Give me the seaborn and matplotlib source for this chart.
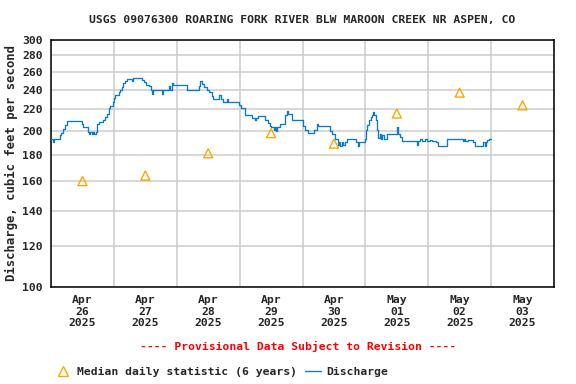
import pandas as pd
import matplotlib
matplotlib.use("Agg")
import matplotlib.pyplot as plt
import seaborn as sns
from matplotlib.lines import Line2D
from matplotlib.ticker import NullLocator

# discharge: hours after Apr 26 00:00 and value (cfs) from that time on
q_hours = [0, 0.8, 1.2, 3.3, 3.9, 4.6, 5.3, 6.2, 11.8, 12.3, 14.1, 14.5, 15.0, 15.5, 16.0, 16.5,
           17.0, 17.6, 18.3, 19.8, 20.5, 21.3, 22.1, 22.7, 23.5, 24.1, 24.4, 25.8, 26.3, 27.0,
           27.6, 28.2, 28.9, 30.8, 31.2, 34.9, 35.5, 36.3, 37.4, 38.0, 38.4, 39.0, 42.2, 42.9,
           45.2, 45.5, 46.0, 46.4, 51.8, 56.4, 56.9, 57.6, 58.5, 59.4, 60.3, 61.3, 61.7, 64.2,
           64.8, 65.8, 67.0, 67.6, 71.9, 72.5, 74.0, 76.6, 77.7, 78.4, 79.1, 81.7, 82.9, 83.6,
           84.0, 85.1, 85.5, 86.0, 86.4, 87.4, 89.3, 90.0, 90.6, 91.9, 96.1, 96.8, 98.2, 100.4,
           101.4, 101.9, 106.5, 107.2, 108.4, 109.7, 110.0, 110.5, 111.0, 111.6, 112.2, 112.9,
           116.4, 117.2, 117.5, 119.8, 120.2, 120.8, 121.4, 122.1, 122.5, 122.8, 123.2, 123.9,
           124.4, 124.9, 125.5, 126.0, 126.5, 127.2, 128.4, 132.2, 132.5, 133.2, 133.9, 139.6,
           140.0, 140.8, 141.8, 142.7, 143.6, 144.6, 145.3, 146.9, 147.8, 151.0, 157.4, 157.8,
           158.2, 159.2, 161.2, 161.8, 165.0, 165.5, 166.0, 166.3, 167.2, 168.0]
q_values = [193, 190, 193, 196, 198, 202, 205, 209, 206, 203, 199, 197, 199, 197, 199, 197,
            199, 206, 208, 210, 213, 216, 221, 223, 227, 231, 235, 238, 240, 243,
            247, 250, 252, 250, 253, 251, 248, 245, 244, 240, 236, 240, 236, 240,
            244, 240, 247, 245, 240, 244, 249, 246, 243, 240, 238, 233, 230, 235,
            230, 227, 230, 227, 224, 221, 215, 212, 210, 212, 214, 210, 207, 204,
            203, 201, 203, 200, 203, 206, 215, 218, 216, 210, 204, 201, 198, 201,
            206, 204, 200, 197, 193, 188, 190, 187, 190, 188, 190, 193,
            190, 187, 190, 193, 201, 205, 210, 213, 215, 217, 215, 210,
            201, 194, 197, 193, 196, 193, 197, 203, 197, 195, 191, 188,
            191, 193, 191, 193, 191, 192, 191, 190, 187, 193, 191, 193,
            191, 192, 190, 187, 190, 187, 190, 192, 193, 193]

# median daily statistic (6 years), plotted at noon
days = ["2025-04-26", "2025-04-27", "2025-04-28", "2025-04-29",
        "2025-04-30", "2025-05-01", "2025-05-02", "2025-05-03"]
medians = [160, 164, 181, 198, 189, 216, 237, 224]

y_ticks = [100, 120, 140, 160, 180, 200, 220, 240, 260, 280, 300]

start = pd.Timestamp("2025-04-26")
flow = pd.DataFrame({"time": start + pd.to_timedelta(q_hours, unit="h"), "cfs": q_values})
med = pd.DataFrame({"time": pd.to_datetime(days) + pd.Timedelta(hours=12), "cfs": medians})

sns.set_style("white")
plt.rcParams["font.family"] = ["DejaVu Sans Mono"]
plt.rcParams["font.weight"] = "bold"
fs = 8.2

fig = plt.figure(figsize=(5.76, 3.84), dpi=100)
ax = fig.add_axes([51 / 576, 1 - 287 / 384, 503 / 576, 247.5 / 384])

blue = "#0a7acc"
orange = "#ffa500"

sns.lineplot(data=flow, x="time", y="cfs", ax=ax, color=blue, linewidth=0.95,
             drawstyle="steps-post", estimator=None, zorder=3)
sns.scatterplot(data=med, x="time", y="cfs", ax=ax, marker="^", s=42,
                facecolor="none", edgecolor=orange, linewidth=1.0, zorder=4)

ax.set_yscale("log")
ax.set_ylim(100, 300)
ax.set_yticks(y_ticks)
ax.set_yticklabels([str(v) for v in y_ticks], fontsize=fs, fontweight="bold")
ax.yaxis.set_minor_locator(NullLocator())

midnights = pd.date_range("2025-04-26", "2025-05-04", freq="D")
ax.set_xlim(midnights[0], midnights[-1])
ax.set_xticks(midnights)
ax.set_xticklabels([])
noons = pd.to_datetime(days) + pd.Timedelta(hours=12)
ax.set_xticks(noons, minor=True)
ax.set_xticklabels([d.strftime("%b\n%d\n%Y") for d in noons], minor=True,
                   fontsize=fs, fontweight="bold", linespacing=1.15)
ax.tick_params(axis="x", which="both", length=0, pad=6)
ax.tick_params(axis="y", length=0, pad=6)

ax.grid(True, which="major", color="#cccccc", linewidth=1.1)
for sp in ax.spines.values():
    sp.set_color("black")
    sp.set_linewidth(1.1)
ax.set_xlabel("")
ax.set_ylabel("Discharge, cubic feet per second", fontsize=8.8, fontweight="bold", labelpad=3)

fig.text(302 / 576, 1 - 20 / 384, "USGS 09076300 ROARING FORK RIVER BLW MAROON CREEK NR ASPEN, CO",
         ha="center", va="center", fontsize=fs, fontweight="bold")
fig.text(298 / 576, 1 - 346 / 384, "---- Provisional Data Subject to Revision ----",
         ha="center", va="center", fontsize=fs, fontweight="bold", color="red")

handles = [Line2D([], [], linestyle="none", marker="^", markersize=7, markerfacecolor="none",
                  markeredgecolor=orange, markeredgewidth=1.0),
           Line2D([], [], color=blue, linewidth=0.95)]
fig.legend(handles, ["Median daily statistic (6 years)", "Discharge"], loc="center left",
           bbox_to_anchor=(55 / 576, 1 - 372 / 384), ncol=2, frameon=False,
           prop={"size": fs, "weight": "bold"}, handlelength=1.4, handletextpad=0.5,
           columnspacing=0.7, borderpad=0, borderaxespad=0)

fig.savefig("out.png", dpi=100)
